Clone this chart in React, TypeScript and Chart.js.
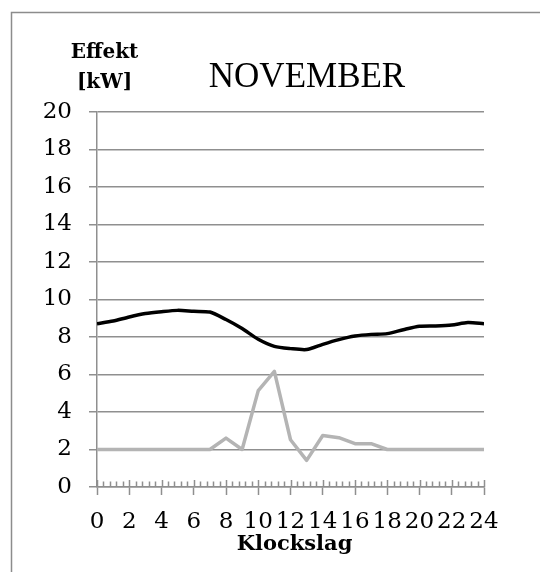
import { useEffect, useRef } from "react";
import { Chart, registerables } from "chart.js";

Chart.register(...registerables);

// Hour of day (Klockslag)
const hours = [0, 1, 2, 3, 4, 5, 6, 7, 8, 9, 10, 11, 12, 13, 14, 15, 16, 17, 18, 19, 20, 21, 22, 23, 24];

// Effekt [kW], black series
const effektTotal = [
  8.71, 8.85, 9.07, 9.25, 9.35, 9.42, 9.37, 9.33, 8.93, 8.45, 7.88, 7.5, 7.38,
  7.33, 7.61, 7.86, 8.05, 8.14, 8.18, 8.39, 8.57, 8.59, 8.64, 8.77, 8.71,
];

// Effekt [kW], grey series
const effektSol = [
  2.0, 2.0, 2.0, 2.0, 2.0, 2.0, 2.0, 2.0, 2.61, 2.0, 5.14, 6.17, 2.52, 1.42,
  2.75, 2.63, 2.31, 2.31, 2.0, 2.0, 2.0, 2.0, 2.0, 2.0, 2.0,
];

const yTicks = [0, 2, 4, 6, 8, 10, 12, 14, 16, 18, 20];
const xTicks = [0, 2, 4, 6, 8, 10, 12, 14, 16, 18, 20, 22, 24];

const TITLE = "NOVEMBER";
const Y_TITLE = ["Effekt", "[kW]"];
const X_TITLE = "Klockslag";

const MINOR_STEP = 0.4;
const AXIS_GREY = "#8f8f8f";
const TICK_FONT = "'DejaVu Serif', serif";
const BOLD_FONT = "'DejaVu Serif', serif";

const frameAndText = {
  id: "frameAndText",
  beforeDraw(chart: Chart) {
    const ctx = chart.ctx;
    ctx.save();
    ctx.strokeStyle = "#8c8c8c";
    ctx.lineWidth = 1.5;
    ctx.beginPath();
    ctx.moveTo(3.5, chart.height);
    ctx.lineTo(3.5, 4.5);
    ctx.lineTo(chart.width, 4.5);
    ctx.stroke();
    ctx.restore();
  },
  afterDraw(chart: Chart) {
    const ctx = chart.ctx;
    const area = chart.chartArea;
    const xs = chart.scales.x;
    ctx.save();

    // minor and upper major tick marks along the hour axis
    ctx.strokeStyle = AXIS_GREY;
    ctx.lineWidth = 1.5;
    const y0 = area.bottom;
    const steps = Math.round((xs.max - xs.min) / MINOR_STEP);
    for (let i = 0; i <= steps; i++) {
      const v = xs.min + i * MINOR_STEP;
      const px = Math.round(xs.getPixelForValue(v)) + 0.5;
      const major = i % 5 === 0;
      ctx.beginPath();
      ctx.moveTo(px, y0);
      ctx.lineTo(px, y0 - (major ? 7 : 5.5));
      ctx.stroke();
    }

    ctx.fillStyle = "#000";
    ctx.textAlign = "center";
    ctx.textBaseline = "alphabetic";

    ctx.font = `35px 'Liberation Serif', serif`;
    ctx.fillText(TITLE, area.left + 210, 78.5);

    ctx.font = `bold 20px ${BOLD_FONT}`;
    ctx.fillText(Y_TITLE[0], area.left + 7.5, 50);
    ctx.fillText(Y_TITLE[1], area.left + 7.5, 80);

    ctx.font = `bold 21px ${BOLD_FONT}`;
    ctx.fillText(X_TITLE, (area.left + area.right) / 2 + 4, 542);

    ctx.restore();
  },
};

export default function App() {
  const canvasRef = useRef<HTMLCanvasElement | null>(null);

  useEffect(() => {
    const canvas = canvasRef.current;
    if (!canvas) return;
    const chart = new Chart(canvas, {
      type: "line",
      data: {
        datasets: [
          {
            label: "Effekt grå",
            data: hours.map((h, i) => ({ x: h, y: effektSol[i] })),
            borderColor: "#b4b4b4",
            borderWidth: 3.5,
            pointRadius: 0,
            tension: 0,
            borderJoinStyle: "round",
          },
          {
            label: "Effekt svart",
            data: hours.map((h, i) => ({ x: h, y: effektTotal[i] })),
            borderColor: "#000000",
            borderWidth: 3.5,
            pointRadius: 0,
            tension: 0.25,
            borderJoinStyle: "round",
          },
        ],
      },
      options: {
        responsive: false,
        animation: false,
        events: [],
        layout: { padding: { top: 104, left: 0, right: 64, bottom: 0 } },
        plugins: {
          legend: { display: false },
          title: { display: false },
          tooltip: { enabled: false },
        },
        scales: {
          x: {
            type: "linear",
            min: 0,
            max: 24,
            afterFit: (scale: any) => {
              scale.height = 85;
            },
            afterBuildTicks: (scale: any) => {
              scale.ticks = xTicks.map((v) => ({ value: v }));
            },
            ticks: {
              autoSkip: false,
              maxRotation: 0,
              padding: 13,
              color: "#000",
              font: { family: TICK_FONT, size: 23 },
            },
            grid: {
              drawOnChartArea: false,
              drawTicks: true,
              tickLength: 8,
              tickWidth: 1.5,
              tickColor: AXIS_GREY,
              color: AXIS_GREY,
            },
            border: { display: true, color: AXIS_GREY, width: 1.5 },
          },
          y: {
            min: 0,
            max: 20,
            afterFit: (scale: any) => {
              scale.width = 89;
            },
            afterBuildTicks: (scale: any) => {
              scale.ticks = yTicks.map((v) => ({ value: v }));
            },
            ticks: {
              padding: 17,
              color: "#000",
              font: { family: TICK_FONT, size: 23 },
            },
            grid: {
              color: AXIS_GREY,
              lineWidth: 1.5,
              tickLength: 8,
              tickColor: AXIS_GREY,
              tickWidth: 1.5,
            },
            border: { display: true, color: AXIS_GREY, width: 1.5 },
          },
        },
      },
      plugins: [frameAndText],
    });
    return () => chart.destroy();
  }, []);

  return (
    <div style={{ width: 540, height: 564 }}>
      <canvas ref={canvasRef} width={540} height={564} style={{ display: "block" }} />
    </div>
  );
}
